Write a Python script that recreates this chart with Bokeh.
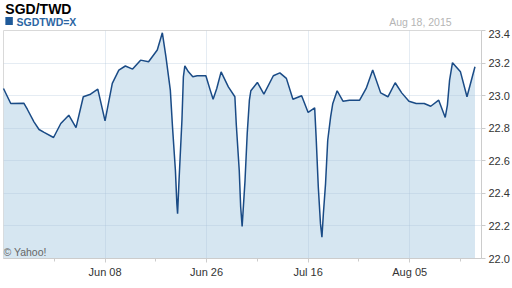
from bokeh.plotting import figure
from bokeh.models import Range1d, FixedTicker, Label
from bokeh.layouts import column
from bokeh.embed import file_html
from bokeh.resources import INLINE

# trading-day index (0 = May 19, 2015) and SGD/TWD rate
days = [0.0, 1.0, 2.8, 3.3, 4.2, 4.9, 5.6, 6.9, 7.9, 9.0, 10.0, 11.0, 12.0, 13.0,
        14.0, 15.0, 15.9, 16.8, 17.8, 18.9, 20.0, 21.2, 21.9, 22.4, 23.0, 23.3,
        23.7, 23.9, 24.0, 24.2, 24.6, 24.8, 25.0, 25.5, 26.1, 26.7, 27.9, 28.5,
        28.9, 29.4, 30.0, 31.0, 31.9, 32.1, 32.5, 32.7, 32.9, 33.3, 33.6, 33.9,
        34.1, 35.0, 35.9, 37.2, 38.1, 39.0, 39.9, 41.1, 42.0, 42.9, 43.1, 43.4,
        43.7, 43.9, 44.1, 44.4, 44.7, 45.1, 45.4, 46.0, 46.8, 47.7, 49.1, 50.0,
        50.9, 52.0, 53.0, 54.0, 54.9, 55.9, 56.9, 58.0, 58.9, 60.0, 60.9, 61.2,
        61.5, 61.9, 63.0, 63.9, 65.0]
rate = [23.044, 22.952, 22.954, 22.915, 22.839, 22.792, 22.774, 22.743, 22.829,
        22.880, 22.804, 22.993, 23.009, 23.040, 22.845, 23.075, 23.157, 23.182,
        23.163, 23.218, 23.208, 23.280, 23.386, 23.237, 23.034, 22.808, 22.542,
        22.337, 22.275, 22.480, 22.849, 23.116, 23.183, 23.146, 23.116, 23.122,
        23.122, 23.034, 22.978, 23.044, 23.146, 23.054, 22.993, 22.818, 22.542,
        22.316, 22.197, 22.480, 22.767, 22.972, 23.030, 23.081, 23.009, 23.122,
        23.140, 23.106, 22.978, 22.999, 22.897, 22.925, 22.746, 22.439, 22.214,
        22.131, 22.275, 22.460, 22.726, 22.870, 22.952, 23.030, 22.966, 22.972,
        22.972, 23.044, 23.157, 23.017, 22.993, 23.079, 23.017, 22.966, 22.952,
        22.952, 22.935, 22.972, 22.866, 22.942, 23.095, 23.202, 23.146, 22.993,
        23.177]

x_ticks = [14, 28, 42, 56]
x_tick_labels = ["Jun 08", "Jun 26", "Jul 16", "Aug 05"]
x_minor = [7, 21, 35, 49, 63]
y_ticks = [22.0, 22.2, 22.4, 22.6, 22.8, 23.0, 23.2, 23.4]
y_tick_labels = ["22.0", "22.2", "22.4", "22.6", "22.8", "23.0", "23.2", "23.4"]

FONT = "Liberation Sans"

# ---- header strip (title, legend, date) ----
TOP_H = 29
head = figure(width=512, height=TOP_H, output_backend="svg", toolbar_location=None,
              x_range=Range1d(0, 512), y_range=Range1d(TOP_H, 0),
              x_axis_location=None, y_axis_location=None,
              min_border_left=0, min_border_right=0, min_border_top=0, min_border_bottom=0)
head.outline_line_color = None
head.grid.visible = False
head.background_fill_color = "white"
head.border_fill_color = "white"
head.rect(x=[6], y=[20.5], width=8, height=8, fill_color="#1f5a99", line_color=None)

def hlab(text, cx, cy, size, color, style="normal", align="left"):
    head.add_layout(Label(x=cx, y=cy, text=text, text_font=FONT, text_font_size=size,
                          text_color=color, text_font_style=style, text_align=align,
                          text_baseline="middle"))

hlab("SGD/TWD", 2, 8, "14px", "#000000", "bold")
hlab("SGDTWD=X", 14, 21.2, "10.5px", "#2c66a3", "bold")
hlab("Aug 18, 2015", 480, 21.5, "10.5px", "#b5b5b5", align="right")

# ---- main chart ----
p = figure(width=512, height=288 - TOP_H, output_backend="svg", toolbar_location=None,
           x_range=Range1d(0, 65.9), y_range=Range1d(22.0, 23.4),
           y_axis_location="right",
           min_border_left=3, min_border_right=29, min_border_top=1, min_border_bottom=30)
p.outline_line_color = "#d9d9d9"
p.background_fill_color = "white"
p.border_fill_color = "white"

p.varea(x=days, y1=22.0, y2=rate, fill_color="#d6e6f1", level="underlay")
p.line(x=days, y=rate, line_color="#1a4b86", line_width=1.5, level="overlay")

xa = p.xaxis[0]
xa.ticker = FixedTicker(ticks=x_ticks, minor_ticks=x_minor)
xa.major_label_overrides = {t: l for t, l in zip(x_ticks, x_tick_labels)}
ya = p.yaxis[0]
ya.ticker = FixedTicker(ticks=y_ticks)
ya.major_label_overrides = {t: l for t, l in zip(y_ticks, y_tick_labels)}

for ax in (xa, ya):
    ax.axis_line_color = "#cccccc"
    ax.major_tick_line_color = "#cccccc"
    ax.minor_tick_line_color = "#cccccc"
    ax.major_tick_in = 0
    ax.major_tick_out = 4
    ax.minor_tick_in = 0
    ax.minor_tick_out = 3
    ax.major_label_text_font = FONT
    ax.major_label_text_font_size = "11px"
    ax.major_label_text_color = "#333333"
    ax.major_label_standoff = 3
ya.minor_tick_line_color = None

p.grid.grid_line_color = "#a9c0d6"
p.grid.grid_line_alpha = 0.3
p.grid.level = "glyph"

p.add_layout(Label(x=0, y=7, x_units="screen", y_units="screen", text="\u00a9 Yahoo!",
                   text_font=FONT, text_font_size="10.5px", text_color="#666666",
                   text_baseline="middle"))

layout = column(head, p, spacing=0)
open("out.html", "w").write(file_html(layout, INLINE))
